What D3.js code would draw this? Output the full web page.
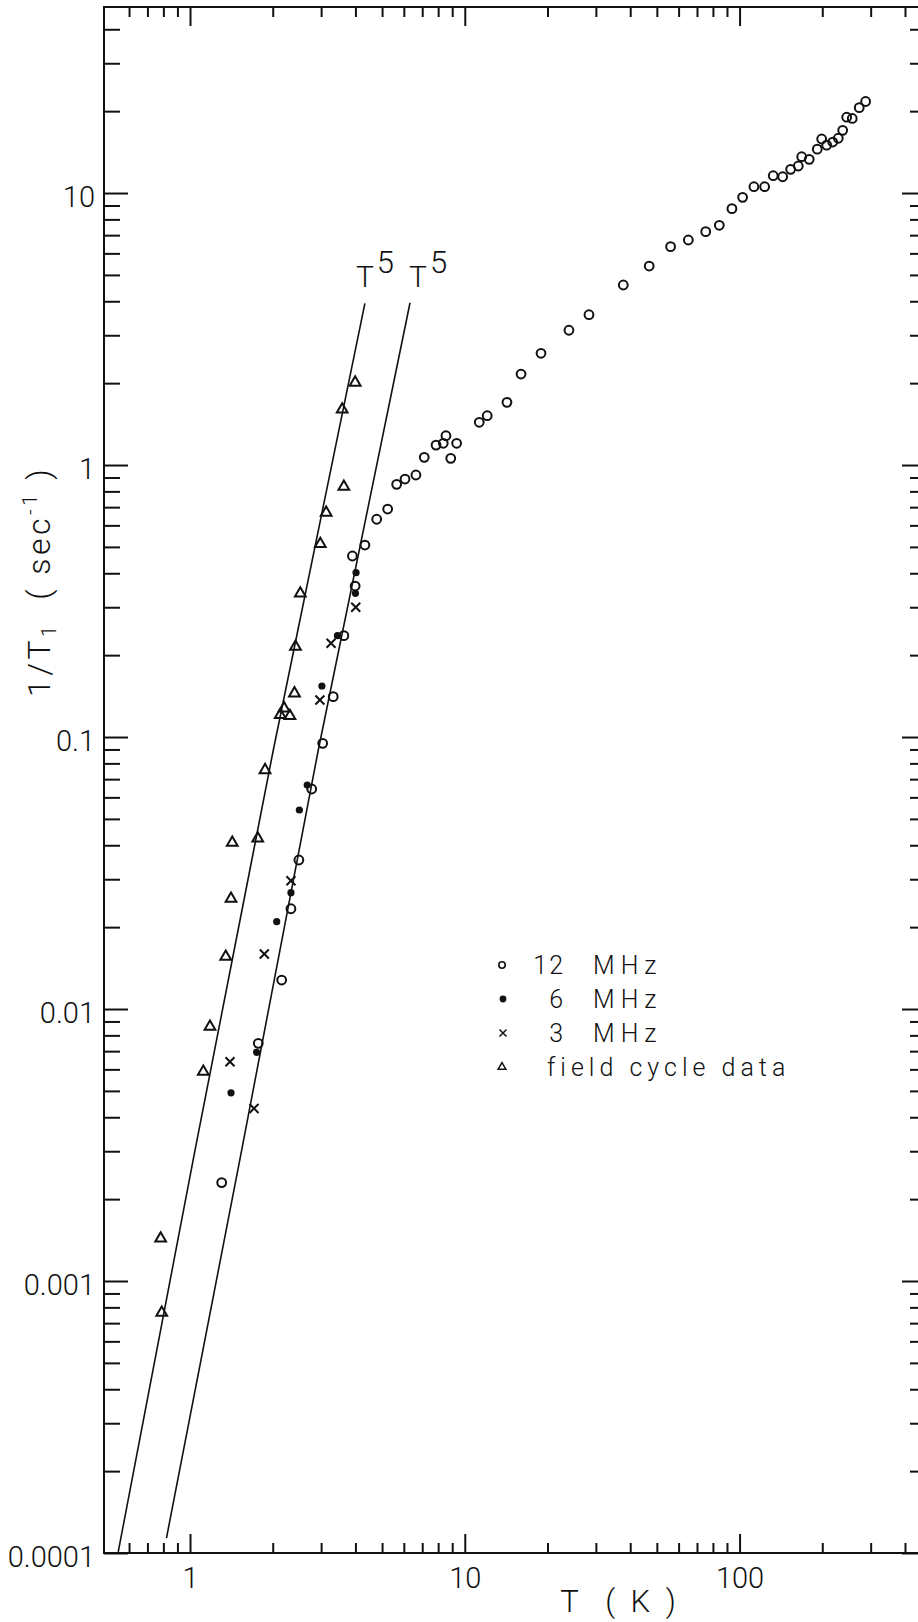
<!DOCTYPE html>
<html>
<head>
<meta charset="utf-8">
<script src="https://cdn.jsdelivr.net/npm/d3@7"></script>
<style>
  html, body { margin: 0; padding: 0; background: #fff; }
  svg { display: block; }
  text { font-family: Roboto, 'DejaVu Sans', sans-serif; font-weight: 300; fill: #111; }
  .tick line { stroke: #111; stroke-width: 2; }
  .tick text { font-size: 29px; }
  .frame { fill: none; stroke: #111; stroke-width: 2; }
  .fit { fill: none; stroke: #111; stroke-width: 1.6; }
  .open { fill: none; stroke: #111; stroke-width: 2; }
  .filled { fill: #111; }
  .cross { fill: none; stroke: #111; stroke-width: 2; }
  .tri { fill: none; stroke: #111; stroke-width: 2; stroke-linejoin: miter; }
</style>
</head>
<body>
<div id="graph-container"></div>
<script>
const width = 918;
const height = 1622;
const margins = {top: 7, right: -8, bottom: 69, left: 104};

// [T (K), 1/T1 (sec^-1)]
const mhz12 = [
  [1.304, 0.0023], [1.772, 0.00748], [2.156, 0.01278], [2.33, 0.02337], [2.49, 0.0353],
  [2.773, 0.0644], [3.04, 0.0948], [3.32, 0.1407], [3.63, 0.2358], [3.99, 0.359],
  [3.90, 0.463], [4.33, 0.508], [4.78, 0.632], [5.24, 0.689], [5.65, 0.849],
  [6.06, 0.888], [6.64, 0.919], [7.12, 1.067], [7.86, 1.184], [8.35, 1.202],
  [8.54, 1.281], [9.34, 1.202], [8.89, 1.058], [11.29, 1.436], [12.07, 1.518],
  [14.24, 1.70], [16.02, 2.16], [18.94, 2.575], [23.94, 3.13], [28.31, 3.57],
  [37.75, 4.59], [46.9, 5.39], [56.1, 6.35], [65.1, 6.72], [75.3, 7.21],
  [84.4, 7.61], [93.8, 8.76], [102.6, 9.64], [112.8, 10.55], [123.4, 10.55],
  [132.6, 11.58], [143.5, 11.48], [153.4, 12.22], [163.6, 12.57], [168.3, 13.6],
  [179.3, 13.3], [191.8, 14.5], [199.0, 15.8], [207.5, 15.0], [218.3, 15.4],
  [228.7, 15.9], [237.3, 17.0], [245.4, 19.0], [257.1, 18.8], [272.6, 20.6],
  [287.6, 21.7]
];
const mhz6 = [
  [4.02, 0.402], [4.00, 0.3375], [3.44, 0.2358], [3.02, 0.154], [2.67, 0.0666],
  [2.50, 0.0539], [2.33, 0.02677], [2.068, 0.02094], [1.748, 0.00693], [1.41, 0.00492]
];
const mhz3 = [
  [4.01, 0.2998], [3.26, 0.2211], [2.97, 0.1368], [2.33, 0.0296], [1.864, 0.01593],
  [1.398, 0.0064], [1.71, 0.00431]
];
const fieldCycle = [
  [3.99, 2.01], [3.58, 1.60], [3.63, 0.832], [3.13, 0.668], [2.98, 0.513],
  [2.52, 0.3375], [2.42, 0.2148], [2.40, 0.1448], [2.13, 0.1205], [2.31, 0.1195],
  [2.20, 0.1275], [1.875, 0.0756], [1.764, 0.0424], [1.425, 0.0409], [1.41, 0.02544],
  [1.349, 0.01557], [1.182, 0.00861], [1.118, 0.00588], [0.782, 0.001435], [0.789, 0.000765]
];

// the two T^5 guide lines, as drawn
const fitLeft = [[0.548, 0.000101], [1.043, 0.00303], [2.01, 0.0896], [4.33, 3.93]];
const fitRight = [[0.821, 0.0001135], [1.542, 0.00303], [2.93, 0.0896], [6.32, 3.95]];

const xTickValues = [1, 10, 100];
const xTickLabels = ['1', '10', '100'];
const yTickValues = [0.0001, 0.001, 0.01, 0.1, 1, 10];
const yTickLabels = ['0.0001', '0.001', '0.01', '0.1', '1', '10'];
const legendLabels = [['12', 'MHz'], ['6', 'MHz'], ['3', 'MHz'], ['', 'field cycle data']];

const xDomain = [0.4864, 477];
const yDomain = [0.0001, 48.3];

document.addEventListener('DOMContentLoaded', function() {
  const svg = d3.select('#graph-container')
                .append('svg')
                .attr('width', width)
                .attr('height', height);

  const x = d3.scaleLog().domain(xDomain).range([margins.left, width - margins.right]);
  const y = d3.scaleLog().domain(yDomain).range([height - margins.bottom, margins.top]);

  // minor ticks: 2..9 of every decade inside the frame
  const minorTicks = (lo, hi) => {
    let out = [];
    for (let e = -5; e <= 3; e++) {
      for (let m = 2; m <= 9; m++) {
        let v = m * Math.pow(10, e);
        if (v > lo && v < hi) out.push(v);
      }
    }
    return out;
  };
  const xMinor = minorTicks(0.55, xDomain[1]);
  const yMinor = minorTicks(yDomain[0], yDomain[1]);

  const x0 = x.range()[0], x1 = x.range()[1];
  const y0 = y.range()[0], y1 = y.range()[1];

  // bottom axis with labels
  svg.append('g')
     .attr('transform', `translate(0,${y0})`)
     .call(d3.axisBottom(x).tickValues(xTickValues)
             .tickFormat((d, i) => xTickLabels[i])
             .tickSizeInner(-19).tickSizeOuter(0).tickPadding(14))
     .call(g => g.select('.domain').remove());
  svg.append('g')
     .attr('transform', `translate(0,${y0})`)
     .call(d3.axisBottom(x).tickValues(xMinor).tickFormat('')
             .tickSizeInner(-10).tickSizeOuter(0))
     .call(g => g.select('.domain').remove());

  // top axis, ticks only
  svg.append('g')
     .attr('transform', `translate(0,${y1})`)
     .call(d3.axisTop(x).tickValues(xTickValues).tickFormat('')
             .tickSizeInner(-19).tickSizeOuter(0))
     .call(g => g.select('.domain').remove());
  svg.append('g')
     .attr('transform', `translate(0,${y1})`)
     .call(d3.axisTop(x).tickValues(xMinor).tickFormat('')
             .tickSizeInner(-10).tickSizeOuter(0))
     .call(g => g.select('.domain').remove());

  // left axis with labels
  svg.append('g')
     .attr('transform', `translate(${x0},0)`)
     .call(d3.axisLeft(y).tickValues(yTickValues)
             .tickFormat((d, i) => yTickLabels[i])
             .tickSizeInner(-24).tickSizeOuter(0).tickPadding(9))
     .call(g => g.select('.domain').remove())
     .call(g => g.selectAll('.tick text').attr('dy', '0.46em'));
  svg.append('g')
     .attr('transform', `translate(${x0},0)`)
     .call(d3.axisLeft(y).tickValues(yMinor).tickFormat('')
             .tickSizeInner(-16).tickSizeOuter(0))
     .call(g => g.select('.domain').remove());

  // right axis, ticks only (frame edge sits just past the picture)
  svg.append('g')
     .attr('transform', `translate(${x1},0)`)
     .call(d3.axisRight(y).tickValues(yTickValues).tickFormat('')
             .tickSizeInner(-24).tickSizeOuter(0))
     .call(g => g.select('.domain').remove());
  svg.append('g')
     .attr('transform', `translate(${x1},0)`)
     .call(d3.axisRight(y).tickValues(yMinor).tickFormat('')
             .tickSizeInner(-16).tickSizeOuter(0))
     .call(g => g.select('.domain').remove());

  svg.append('rect')
     .attr('class', 'frame')
     .attr('x', x0).attr('y', y1)
     .attr('width', x1 - x0).attr('height', y0 - y1);

  // axis titles
  svg.append('text')
     .attr('x', 620).attr('y', 1612)
     .attr('text-anchor', 'middle')
     .style('font-size', '31px')
     .style('white-space', 'pre')
     .style('letter-spacing', '4px')
     .text('T  ( K )');

  let yTitle = svg.append('text')
                  .attr('transform', 'translate(50,697) rotate(-90)')
                  .style('font-size', '32px')
                  .style('white-space', 'pre')
                  .style('letter-spacing', '3.5px');
  yTitle.append('tspan').text('1/T');
  yTitle.append('tspan').attr('dy', 6).style('font-size', '20px').text('1');
  yTitle.append('tspan').attr('dy', -6).text('  ( sec');
  yTitle.append('tspan').attr('dy', -13).style('font-size', '20px').text('-1');
  yTitle.append('tspan').attr('dy', 13).text(' )');

  // T^5 guide lines
  const line = d3.line().x(d => x(d[0])).y(d => y(d[1]));
  [fitLeft, fitRight].forEach(function(fit, i) {
    svg.append('path').attr('class', 'fit').attr('d', line(fit));
    let top = fit[fit.length - 1];
    let label = svg.append('text')
                   .attr('x', x(top[0]) + (i === 0 ? -9 : -1))
                   .attr('y', y(top[1]) - 16)
                   .style('font-size', '30px');
    label.append('tspan').text('T');
    label.append('tspan').attr('dx', 3).attr('dy', -14).style('font-size', '31px').text('5');
  });

  // data
  const triangle = d3.symbol(d3.symbolTriangle, 50);
  const cross = (r) => `M${-r},${-r}L${r},${r}M${-r},${r}L${r},${-r}`;

  svg.append('g').selectAll('circle')
     .data(mhz12).enter().append('circle')
     .attr('class', 'open')
     .attr('cx', d => x(d[0])).attr('cy', d => y(d[1]))
     .attr('r', 4.4);

  svg.append('g').selectAll('circle')
     .data(mhz6).enter().append('circle')
     .attr('class', 'filled')
     .attr('cx', d => x(d[0])).attr('cy', d => y(d[1]))
     .attr('r', 3.6);

  svg.append('g').selectAll('path')
     .data(mhz3).enter().append('path')
     .attr('class', 'cross')
     .attr('transform', d => `translate(${x(d[0])},${y(d[1])})`)
     .attr('d', cross(4.5));

  svg.append('g').selectAll('path')
     .data(fieldCycle).enter().append('path')
     .attr('class', 'tri')
     .attr('transform', d => `translate(${x(d[0])},${y(d[1])})`)
     .attr('d', triangle());

  // legend
  const legendX = 502, legendY = 965, rowGap = 34;
  let legend = svg.append('g');
  legend.append('circle').attr('class', 'open').attr('cx', legendX).attr('cy', legendY).attr('r', 3.2).style('stroke-width', 1.6);
  legend.append('circle').attr('class', 'filled').attr('cx', legendX + 1).attr('cy', legendY + rowGap).attr('r', 3.4);
  legend.append('path').attr('class', 'cross').style('stroke-width', 1.5)
        .attr('transform', `translate(${legendX + 1},${legendY + rowGap * 2})`).attr('d', cross(3.5));
  legend.append('path').attr('class', 'tri').style('stroke-width', 1.5)
        .attr('transform', `translate(${legendX},${legendY + rowGap * 3})`)
        .attr('d', d3.symbol(d3.symbolTriangle, 26)());

  legendLabels.forEach(function(lab, i) {
    let ty = legendY + rowGap * i + 9;
    if (lab[0]) {
      legend.append('text').attr('x', 565).attr('y', ty)
            .attr('text-anchor', 'end')
            .style('font-size', '25px').style('letter-spacing', '2px')
            .text(lab[0]);
      legend.append('text').attr('x', 593).attr('y', ty)
            .style('font-size', '25px').style('letter-spacing', '6px')
            .text(lab[1]);
    } else {
      legend.append('text').attr('x', 547).attr('y', ty)
            .style('font-size', '25px').style('letter-spacing', '5px')
            .style('white-space', 'pre')
            .text(lab[1]);
    }
  });
});
</script>
</body>
</html>
